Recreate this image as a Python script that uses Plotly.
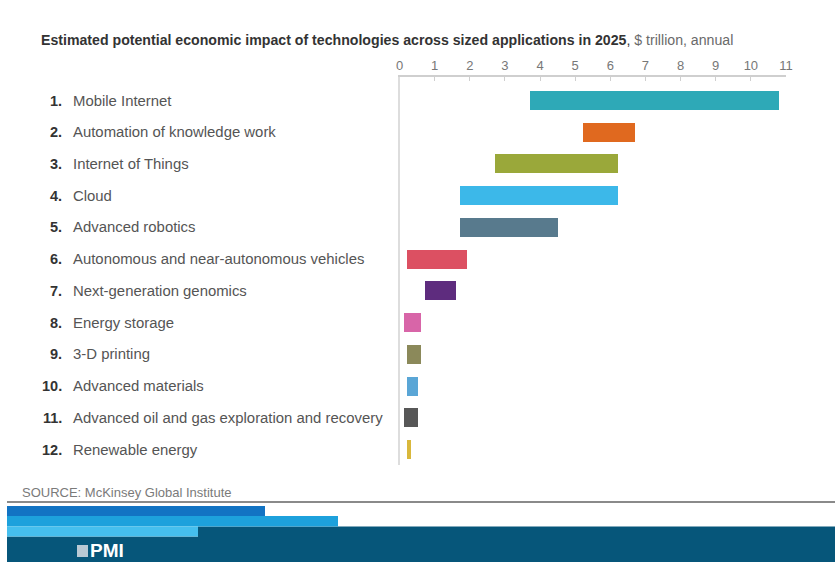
import plotly.graph_objects as go

W, H = 835, 562

technologies = [
    "Mobile Internet", "Automation of knowledge work", "Internet of Things", "Cloud",
    "Advanced robotics", "Autonomous and near-autonomous vehicles", "Next-generation genomics",
    "Energy storage", "3-D printing", "Advanced materials",
    "Advanced oil and gas exploration and recovery", "Renewable energy",
]
impact_low = [3.7, 5.2, 2.7, 1.7, 1.7, 0.2, 0.7, 0.1, 0.2, 0.2, 0.1, 0.2]
impact_high = [10.8, 6.7, 6.2, 6.2, 4.5, 1.9, 1.6, 0.6, 0.6, 0.5, 0.5, 0.3]
bar_colors = ["#2ea9b7", "#e0691f", "#9aa83a", "#3cb8e9", "#587a8d", "#dc5062",
              "#5e2c7e", "#d865a8", "#8b895a", "#5aa6d6", "#575757", "#d9b83c"]
x_ticks = list(range(0, 12))

def px(x):
    return x / W

def py(y):
    return 1 - y / H

rows = list(range(len(technologies)))

fig = go.Figure()
fig.add_trace(go.Bar(
    orientation="h",
    y=rows,
    base=impact_low,
    x=[h - l for l, h in zip(impact_low, impact_high)],
    marker=dict(color=bar_colors, line=dict(width=0)),
    width=0.6,
    hoverinfo="skip",
))

x0, x1 = 399.5, 786.0
y_top, y_bot = 77, 465
row_step = 31.73
row0 = 100.5
r_top = (y_top - row0) / row_step
r_bot = (y_bot - row0) / row_step

FONT = "Liberation Sans, Arial"
annotations = []
annotations.append(dict(
    x=px(38.5), y=py(40), xref="paper", yref="paper", xanchor="left", yanchor="middle",
    showarrow=False,
    text="<b>Estimated potential economic impact of technologies across sized applications in 2025</b>, "
         "<span style='color:#6a6a6a'>$ trillion, annual</span>",
    font=dict(family=FONT, size=14.15, color="#333333"),
))
for i, name in enumerate(technologies):
    yy = py(row0 + row_step * i)
    annotations.append(dict(
        x=px(63.5), y=yy, xref="paper", yref="paper", xanchor="right", yanchor="middle",
        showarrow=False, text=f"<b>{i + 1}.</b>",
        font=dict(family=FONT, size=14.5, color="#333333"),
    ))
    annotations.append(dict(
        x=px(70.5), y=yy, xref="paper", yref="paper", xanchor="left", yanchor="middle",
        showarrow=False, text=name,
        font=dict(family=FONT, size=14.9, color="#555555"),
    ))
annotations.append(dict(
    x=px(19.5), y=py(492), xref="paper", yref="paper", xanchor="left", yanchor="middle",
    showarrow=False, text="SOURCE: McKinsey Global Institute",
    font=dict(family=FONT, size=13, color="#7a7a7a"),
))
annotations.append(dict(
    x=px(88), y=py(550), xref="paper", yref="paper", xanchor="left", yanchor="middle",
    showarrow=False, text="<b>PMI</b>",
    font=dict(family=FONT, size=19, color="#ffffff"),
))

shapes = [
    dict(type="line", xref="paper", yref="paper", x0=px(7), x1=1, y0=py(502), y1=py(502),
         line=dict(color="#8a8a8a", width=2)),
    dict(type="rect", xref="paper", yref="paper", x0=px(198), x1=1, y0=0, y1=py(526.5),
         fillcolor="#06567a", line=dict(width=0)),
    dict(type="rect", xref="paper", yref="paper", x0=px(7), x1=1, y0=0, y1=py(536.5),
         fillcolor="#06567a", line=dict(width=0)),
    dict(type="rect", xref="paper", yref="paper", x0=px(7), x1=px(265), y0=py(516), y1=py(506),
         fillcolor="#1273c3", line=dict(width=0)),
    dict(type="rect", xref="paper", yref="paper", x0=px(7), x1=px(338), y0=py(526.5), y1=py(516),
         fillcolor="#1da1dc", line=dict(width=0)),
    dict(type="rect", xref="paper", yref="paper", x0=px(7), x1=px(198), y0=py(536.5), y1=py(526.5),
         fillcolor="#45bfee", line=dict(width=0)),
    dict(type="rect", xref="paper", yref="paper", x0=px(77), x1=px(88), y0=py(557), y1=py(545),
         fillcolor="#b9c9d4", line=dict(width=0)),
]

fig.update_layout(
    width=W, height=H,
    autosize=False,
    margin=dict(l=0, r=0, t=0, b=0, pad=0),
    paper_bgcolor="#ffffff", plot_bgcolor="#ffffff",
    showlegend=False,
    bargap=0,
    annotations=annotations,
    shapes=shapes,
    xaxis=dict(
        domain=[px(x0), px(x1)], range=[0, 11], side="top", automargin=False,
        tickvals=x_ticks, ticktext=[str(t) for t in x_ticks],
        tickfont=dict(family=FONT, size=13, color="#777777"),
        showline=True, linecolor="#cfcfcf", linewidth=1.5,
        ticks="inside", ticklen=4, tickcolor="#cfcfcf",
        showgrid=False, zeroline=False, fixedrange=True,
    ),
    yaxis=dict(
        domain=[py(y_bot), py(y_top)], range=[r_bot, r_top], automargin=False,
        showticklabels=False, ticks="",
        showline=True, linecolor="#dddddd", linewidth=1.5,
        showgrid=False, zeroline=False, fixedrange=True,
    ),
)

fig.write_html("out.html")
